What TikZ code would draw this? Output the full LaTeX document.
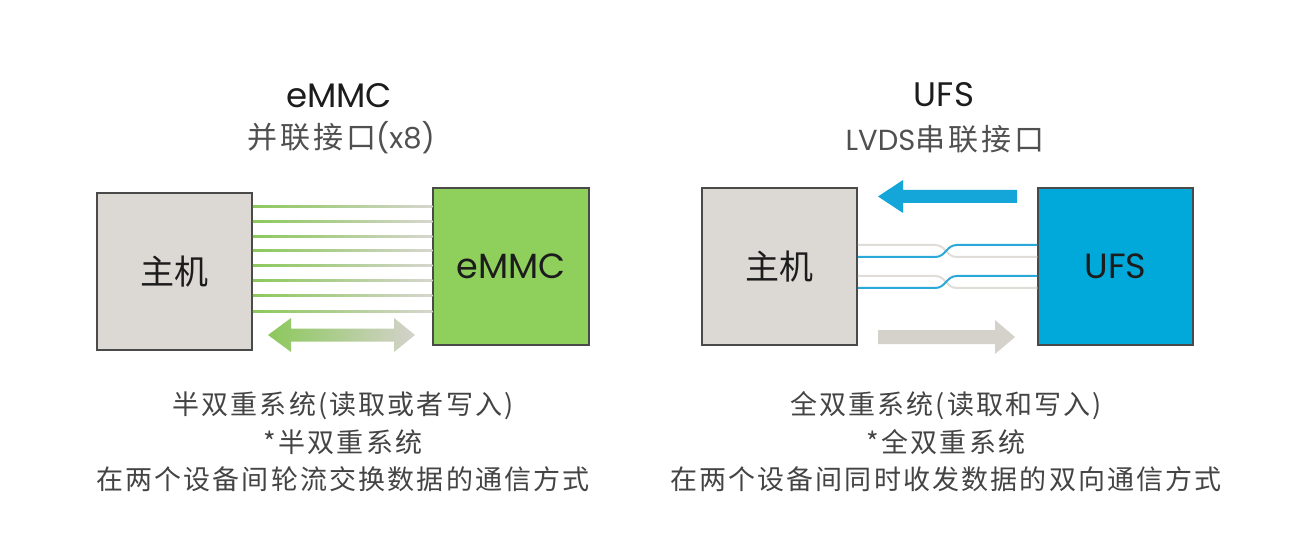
\documentclass[tikz,border=0pt]{standalone}
\usepackage{fontspec}
\setmainfont{Noto Sans CJK SC}
\newfontfamily\bodyf[LetterSpace=8]{Noto Sans CJK SC}
\newfontfamily\subf[LetterSpace=10]{Noto Sans CJK SC}
\newfontfamily\latf{Poppins}
\usetikzlibrary{calc}
\definecolor{hostgray}{HTML}{DCD8D3}
\definecolor{boxborder}{HTML}{4A4A4A}
\definecolor{emmcgreen}{HTML}{8FCF5C}
\definecolor{ufsblue}{HTML}{00A9DA}
\definecolor{lgreen}{HTML}{8CC85C}
\definecolor{lgray}{HTML}{D6D6CE}
\definecolor{agreen}{HTML}{8CC85C}
\definecolor{agray}{HTML}{D4D2CB}
\definecolor{ablue}{HTML}{14A6D8}
\definecolor{wblue}{HTML}{2AA8DA}
\definecolor{wgray}{HTML}{E0DCD8}
\definecolor{titlec}{HTML}{1C1C1C}
\definecolor{subc}{HTML}{505050}
\definecolor{bodyc}{HTML}{444444}
\begin{document}
\begin{tikzpicture}[x=1pt,y=-1pt,
  box/.style={draw=boxborder, line width=1.5pt, minimum width=155pt, minimum height=157pt, inner sep=0pt, text=titlec, font=\fontsize{34}{40}\selectfont},
  latbox/.style={font=\latf\fontsize{35}{40}\selectfont},
  titlet/.style={text=titlec, font=\latf\fontsize{34}{38}\selectfont, inner sep=0pt},
  subt/.style={text=subc, font=\subf\fontsize{30}{34}\selectfont, inner sep=0pt},
  bodyt/.style={text=bodyc, align=center, font=\bodyf\fontsize{27}{37.5}\selectfont, inner sep=0pt},
  pline/.style={line width=2pt}
]
\useasboundingbox[fill=white] (0,0) rectangle (1291,556);

% titles
\node[titlet] (t1) at (339,96) {eMMC};
\node[subt] (s1) at (341,138) {并联接口{\latf\fontsize{29}{34}\selectfont(x8)}};
\node[titlet] (t2) at (944,95) {UFS};
\node[subt] (s2) at (945,139) {{\latf\fontsize{29}{34}\selectfont LVDS}串联接口};

% boxes
\node[box, fill=hostgray] (hostL) at (174.5,271.5) {主机};
\node[box, latbox, fill=emmcgreen, minimum width=156pt] (emmc) at (511,266.5) {eMMC};
\node[box, fill=hostgray] (hostR) at (779.5,266.5) {主机};
\node[box, latbox, fill=ufsblue] (ufs) at (1115.5,266.5) {UFS};

% parallel lines (x8)
\foreach \yy in {207,222,237,251,266,281,295,311}{
  \shade[left color=lgreen, right color=lgray]
    ($(hostL.east |- 0,\yy)+(0,-1)$) rectangle ($(emmc.west |- 0,\yy)+(0,1)$);
}

% double arrow
\shade[left color=agreen, right color=agray]
  (268,335) -- (291,318) -- (291,328.5) -- (394,328.5) -- (394,318) -- (415,335)
  -- (394,352) -- (394,341.5) -- (291,341.5) -- (291,352) -- cycle;

% LVDS crossing lines
\coordinate (a1) at (hostR.east |- 0,245);
\coordinate (a2) at (hostR.east |- 0,257);
\coordinate (a3) at (hostR.east |- 0,276);
\coordinate (a4) at (hostR.east |- 0,288);
\coordinate (b1) at (ufs.west |- 0,245);
\coordinate (b2) at (ufs.west |- 0,257);
\coordinate (b3) at (ufs.west |- 0,276);
\coordinate (b4) at (ufs.west |- 0,288);
\draw[pline, wgray] (a1) -- (935,245) .. controls (946,245) and (946,257) .. (957,257) -- (b2);
\draw[pline, wgray] (a3) -- (935,276) .. controls (946,276) and (946,288) .. (957,288) -- (b4);
\draw[pline, wblue] (a2) -- (935,257) .. controls (946,257) and (946,245) .. (957,245) -- (b1);
\draw[pline, wblue] (a4) -- (935,288) .. controls (946,288) and (946,276) .. (957,276) -- (b3);

% blue arrow (to host)
\fill[ablue] (878,196.5) -- (903,180) -- (903,190) -- (1017,190) -- (1017,203)
  -- (903,203) -- (903,213) -- cycle;
% gray arrow (to UFS)
\fill[agray] (1015,337) -- (995,320) -- (995,330) -- (878,330) -- (878,344)
  -- (995,344) -- (995,354) -- cycle;

% bottom text
\node[bodyt] (d1) at (343,442) {半双重系统(读取或者写入)\\*半双重系统\\在两个设备间轮流交换数据的通信方式};
\node[bodyt] (d2) at (946,442) {全双重系统(读取和写入)\\*全双重系统\\在两个设备间同时收发数据的双向通信方式};
\end{tikzpicture}
\end{document}
